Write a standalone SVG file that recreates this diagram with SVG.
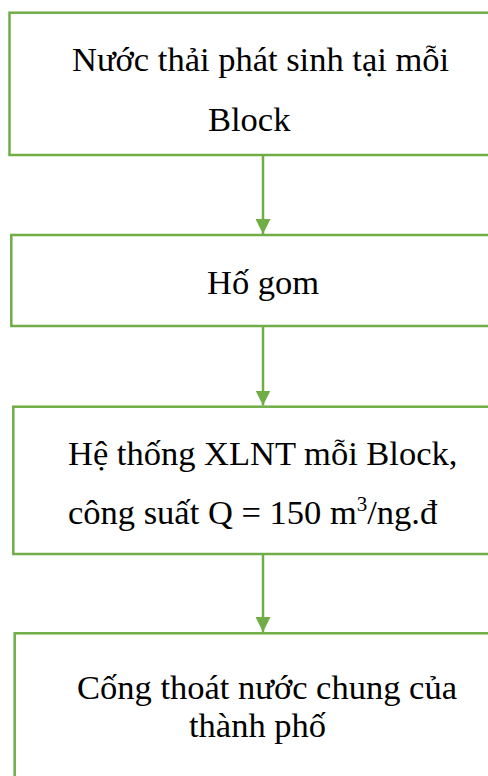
<svg xmlns="http://www.w3.org/2000/svg" width="488" height="776" viewBox="0 0 488 776">
<style>
.box{fill:#fff;stroke:#70AD47;stroke-width:2.5}
.lbl{font-family:"Liberation Serif","Times New Roman",serif;font-size:34.5px;fill:#000}
.con{stroke:#70AD47;stroke-width:2.5;fill:none}
</style>
<defs>
<marker id="arr" markerUnits="userSpaceOnUse" markerWidth="16" markerHeight="15" refX="15" refY="7.5" orient="auto">
<path d="M0,0 L15,7.5 L0,15 Z" fill="#70AD47"/>
</marker>
</defs>
<rect width="488" height="776" fill="#fff"/>
<g id="n1">
<rect class="box" x="9.5" y="12.7" width="490" height="142.3"/>
<text class="lbl" x="72" y="71">Nước thải phát sinh tại mỗi</text>
<text class="lbl" x="208" y="131">Block</text>
</g>
<g id="n2">
<rect class="box" x="11.3" y="235" width="490" height="91"/>
<text class="lbl" x="207" y="294">Hố gom</text>
</g>
<g id="n3">
<rect class="box" x="13.3" y="406.7" width="490" height="147.3"/>
<text class="lbl" x="68" y="465">Hệ thống XLNT mỗi Block,</text>
<text class="lbl" x="68" y="524">công suất Q = 150 m<tspan font-size="21" dy="-13">3</tspan><tspan dy="13">/ng.đ</tspan></text>
</g>
<g id="n4">
<rect class="box" x="14.7" y="633.3" width="490" height="160"/>
<text class="lbl" x="77" y="699">Cống thoát nước chung của</text>
<text class="lbl" x="189" y="737">thành phố</text>
</g>
<g id="connectors">
<line class="con" x1="263" y1="155" x2="263" y2="234" marker-end="url(#arr)"/>
<line class="con" x1="263" y1="326" x2="263" y2="405.5" marker-end="url(#arr)"/>
<line class="con" x1="263" y1="554" x2="263" y2="632" marker-end="url(#arr)"/>
</g>
</svg>
